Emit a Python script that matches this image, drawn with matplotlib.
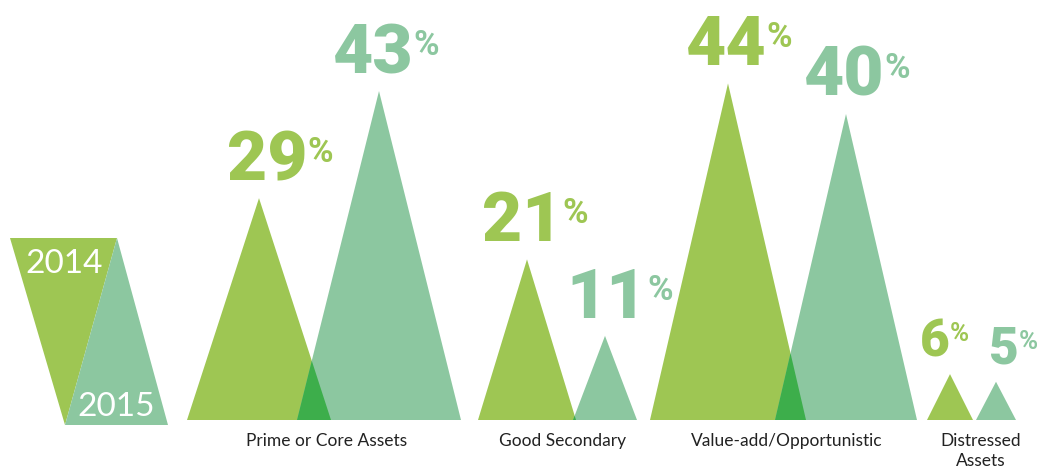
import matplotlib
matplotlib.use("Agg")
import matplotlib.pyplot as plt
from matplotlib.patches import Polygon

# ---- data ----
categories = ["Prime or Core Assets", "Good Secondary", "Value-add/Opportunistic", "Distressed\nAssets"]
series_names = ["2014", "2015"]
values_2014 = [29, 21, 44, 6]
values_2015 = [43, 11, 40, 5]

# ---- layout (pixels) ----
W, H = 1045, 471
BASE_PX = 420
PX_PER_PCT = 7.65
centers_2014 = [259, 527, 728, 950]
centers_2015 = [379, 605, 846, 996]
half_w_2014 = [72, 49, 78, 23]
half_w_2015 = [82, 32, 71, 20]
label_dx_2014 = [8, -5, -2, -15]
label_dx_2015 = [-6, 2, -2, 8]
label_x = [327, 563, 787, 981]
label_size = [50, 50, 50, 37]

C14 = "#9ec653"
C15 = "#8cc7a0"
COVER = "#3dae4b"

fig = plt.figure(figsize=(W / 100, H / 100), dpi=100)
ax = fig.add_axes([0, 0, 1, 1])
ax.set_xlim(0, W)
ax.set_ylim(-(H - BASE_PX) / PX_PER_PCT, BASE_PX / PX_PER_PCT)
ax.axis("off")


def tri(c, hw, v):
    return [(c - hw, 0), (c + hw, 0), (c, v)]


def line_x(p1, p2, y):
    (x1, y1), (x2, y2) = p1, p2
    return x1 + (x2 - x1) * (y - y1) / (y2 - y1)


for i in range(len(categories)):
    t14 = tri(centers_2014[i], half_w_2014[i], values_2014[i])
    t15 = tri(centers_2015[i], half_w_2015[i], values_2015[i])
    ax.add_patch(Polygon(t14, closed=True, facecolor=C14, edgecolor="none", zorder=2))
    ax.add_patch(Polygon(t15, closed=True, facecolor=C15, edgecolor="none", zorder=2))
    # overlap region (right edge of 2014 vs left edge of 2015)
    r14 = t14[1]
    l15 = t15[0]
    if l15[0] < r14[0]:
        a1, b1 = t14[1], t14[2]
        a2, b2 = t15[0], t15[2]

        def fx14(y):
            return line_x(a1, b1, y)

        def fx15(y):
            return line_x(a2, b2, y)
        lo, hi = 0.0, min(values_2014[i], values_2015[i])
        for _ in range(60):
            mid = (lo + hi) / 2
            if fx14(mid) - fx15(mid) > 0:
                lo = mid
            else:
                hi = mid
        yi = (lo + hi) / 2
        ax.add_patch(Polygon([l15, r14, (fx14(yi), yi)], closed=True,
                             facecolor=COVER, edgecolor="none", zorder=3))

    # value labels
    for val, c, dx, col in ((values_2014[i], centers_2014[i], label_dx_2014[i], C14),
                            (values_2015[i], centers_2015[i], label_dx_2015[i], C15)):
        fs = label_size[i]
        t = ax.annotate(f"{val}", xy=(c, val), xytext=(dx, 18), textcoords="offset pixels",
                        ha="center", va="baseline", fontsize=fs, color=col,
                        family=["Roboto", "DejaVu Sans"], fontweight="black", zorder=4)
        ax.annotate("%", xy=(1, 1), xycoords=t, xytext=(0, -fs * 0.10), textcoords="offset points",
                    ha="left", va="top", fontsize=fs * 0.5, color=col,
                    family=["Roboto", "DejaVu Sans"], fontweight="bold", zorder=4)

    # category labels
    ax.text(label_x[i], -(433 - BASE_PX) / PX_PER_PCT, categories[i], ha="center", va="top",
            fontsize=12.5, color="#222222", family=["Lato", "DejaVu Sans"], linespacing=1.3)


# ---- legend (parallelogram made of two triangles) ----
def fp(x, y):
    return (x / W, 1 - y / H)


fig.patches.append(Polygon([fp(10, 238), fp(117, 238), fp(65, 425)], closed=True,
                           facecolor=C14, edgecolor="none", transform=fig.transFigure, figure=fig))
fig.patches.append(Polygon([fp(117, 238), fp(168, 425), fp(65, 425)], closed=True,
                           facecolor=C15, edgecolor="none", transform=fig.transFigure, figure=fig))
fig.text(*fp(25, 273), series_names[0], ha="left", va="baseline", fontsize=24, color="white",
         family=["Lato", "DejaVu Sans"], fontweight="normal")
fig.text(*fp(77, 416), series_names[1], ha="left", va="baseline", fontsize=24, color="white",
         family=["Lato", "DejaVu Sans"], fontweight="normal")

fig.savefig("out.png", dpi=100)
